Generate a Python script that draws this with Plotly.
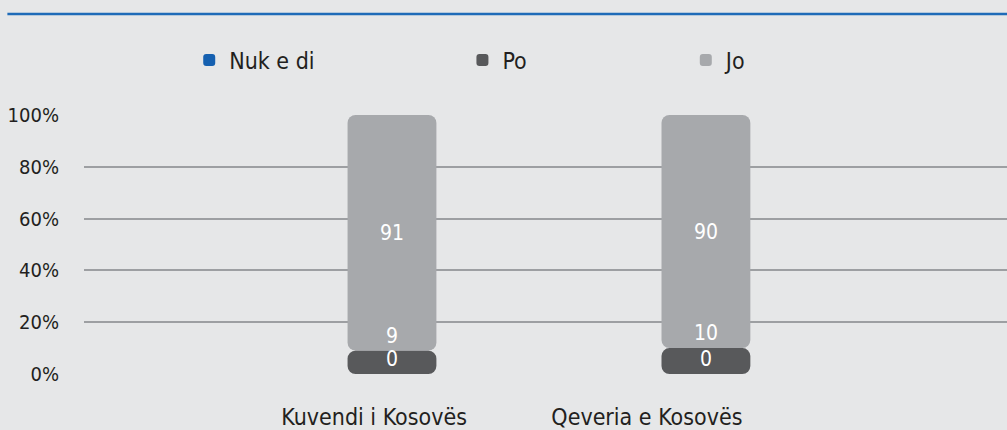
import plotly.graph_objects as go

categories = ["Kuvendi i Kosovës", "Qeveria e Kosovës"]
series_names = ["Nuk e di", "Po", "Jo"]
nuk_e_di = [0, 0]
po = [9, 10]
jo = [91, 90]
y_tick_vals = [0, 20, 40, 60, 80, 100]
y_tick_text = ["0%", "20%", "40%", "60%", "80%", "100%"]
label_pos = [-0.057, 0.812]

colors = {"Nuk e di": "#1560b0", "Po": "#58595b", "Jo": "#a7a9ac"}
FONT = "DejaVu Sans Condensed, Open Sans, sans-serif"
xs = list(range(len(categories)))
zeros = [0] * len(categories)
W = 0.283

fig = go.Figure()
fig.add_trace(go.Bar(
    x=xs, y=nuk_e_di, name="Nuk e di", legend="legend", width=W, showlegend=True,
    marker=dict(color=colors["Nuk e di"], line=dict(width=0)),
    hoverinfo="skip"))
fig.add_trace(go.Bar(
    x=xs, y=jo, base=po, name="Jo", legend="legend3", width=W, showlegend=True,
    marker=dict(color=colors["Jo"], line=dict(width=0)),
    text=[str(v) for v in jo], textposition="inside", insidetextanchor="middle",
    textfont=dict(color="white", size=21, family=FONT), hoverinfo="skip"))
fig.add_trace(go.Bar(
    x=xs, y=po, base=zeros, name="Po", legend="legend2", width=W, showlegend=True,
    marker=dict(color=colors["Po"], line=dict(width=0), cornerradius=8),
    text=[str(v) for v in po], textposition="outside",
    textfont=dict(color="white", size=21, family=FONT), hoverinfo="skip"))
# labels for the "Nuk e di" values, drawn on top
fig.add_trace(go.Bar(
    x=xs, y=nuk_e_di, name="Nuk e di", width=W, showlegend=False,
    marker=dict(color=colors["Nuk e di"], line=dict(width=0)),
    text=[str(v) for v in nuk_e_di], textposition="outside",
    textfont=dict(color="white", size=21, family=FONT), hoverinfo="skip"))

legend_common = dict(orientation="h", yanchor="middle", y=1.212, xanchor="left", visible=True,
                     bgcolor="rgba(0,0,0,0)", font=dict(size=23, family=FONT, color="#231f20"))
fig.update_layout(
    barmode="overlay",
    barcornerradius=8,
    showlegend=True,
    width=1007, height=430,
    margin=dict(l=84, r=0, t=115, b=56),
    paper_bgcolor="#e6e7e8", plot_bgcolor="#e6e7e8",
    font=dict(family=FONT, color="#231f20"),
    legend=dict(x=0.114, **legend_common),
    legend2=dict(x=0.41, **legend_common),
    legend3=dict(x=0.652, **legend_common),
)
fig.update_xaxes(range=[-0.981, 1.959], tickvals=label_pos, ticktext=categories,
                 showgrid=False, zeroline=False, showline=False, ticks="",
                 ticklabelstandoff=27, tickfont=dict(size=23, family=FONT, color="#231f20"))
fig.update_yaxes(range=[0, 100], tickvals=y_tick_vals, ticktext=y_tick_text,
                 showgrid=True, gridcolor="#9d9fa2", gridwidth=1.5, zeroline=False,
                 showline=False, ticks="", ticklabelstandoff=24,
                 tickfont=dict(size=20, family=FONT, color="#231f20"))
fig.add_shape(type="line", xref="paper", yref="paper", x0=-0.083, x1=1, y0=1.39, y1=1.39,
              line=dict(color="#1f6bb8", width=2.5))
fig.write_html("out.html", config={"displayModeBar": False},
               post_script="document.body.style.margin='0';document.body.style.background='#e6e7e8';")
